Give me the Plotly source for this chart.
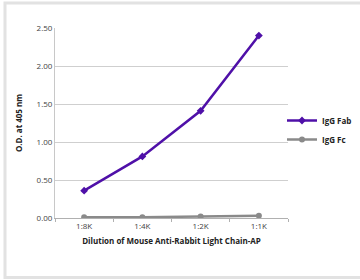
import plotly.graph_objects as go

categories = ["1:8K", "1:4K", "1:2K", "1:1K"]
fab_values = [0.36, 0.81, 1.41, 2.40]
fc_values = [0.01, 0.01, 0.02, 0.03]
y_ticks = [0, 0.5, 1.0, 1.5, 2.0, 2.5]
y_tick_labels = ["0.00", "0.50", "1.00", "1.50", "2.00", "2.50"]

L, R, T, B = 55, 288, 28, 218
W, H = R - L, B - T
def px(x):
    return (x - L) / W
def py(y):
    return (B - y) / H

fig = go.Figure()
fig.add_trace(go.Scatter(
    x=categories, y=fab_values, name="<b>IgG Fab</b>", mode="lines+markers",
    line=dict(color="#4f10a8", width=2.5),
    marker=dict(symbol="diamond", size=6, color="#4f10a8"),
))
fig.add_trace(go.Scatter(
    x=categories, y=fc_values, name="<b>IgG Fc</b>", mode="lines+markers",
    line=dict(color="#8a8a8a", width=2.5),
    marker=dict(symbol="circle", size=6, color="#8a8a8a"),
))

fig.update_layout(
    width=360, height=280,
    margin=dict(l=L, r=360 - R, t=T, b=280 - B, autoexpand=False),
    paper_bgcolor="white", plot_bgcolor="white",
    font=dict(family="Open Sans", color="#333333", size=8),
    showlegend=True,
    legend=dict(x=px(282), y=py(106), xanchor="left", yanchor="top",
                font=dict(size=8, color="#222222", family="Open Sans"),
                tracegroupgap=16, itemwidth=30, bgcolor="rgba(0,0,0,0)"),
    xaxis=dict(
        type="category", showgrid=False, showline=True, linecolor="#b0b0b0",
        ticks="outside", tickson="boundaries", ticklen=3, tickcolor="#b0b0b0",
        tickfont=dict(size=8, color="#444444"),
        title=dict(text="<b>Dilution of Mouse Anti-Rabbit Light Chain-AP</b>",
                   font=dict(size=8, color="#222222"), standoff=8),
        range=[-0.5, 3.5],
    ),
    yaxis=dict(
        range=[0, 2.5], tickvals=y_ticks, ticktext=y_tick_labels,
        showgrid=True, gridcolor="#cfcfcf", gridwidth=1,
        showline=True, linecolor="#c8c8c8", zeroline=False,
        tickfont=dict(size=8, color="#444444"),
        title=dict(text="<b>O.D. at 405 nm</b>", font=dict(size=8, color="#222222"), standoff=12),
    ),
    shapes=[
        dict(type="rect", xref="paper", yref="paper",
             x0=px(5), x1=px(365), y0=py(277.5), y1=py(3),
             line=dict(color="#e2e2e2", width=3), fillcolor="rgba(0,0,0,0)", layer="below"),
    ],
)

fig.write_html("out.html", config={"displayModeBar": False},
               post_script="document.body.style.margin='0';document.body.style.overflow='hidden';")
